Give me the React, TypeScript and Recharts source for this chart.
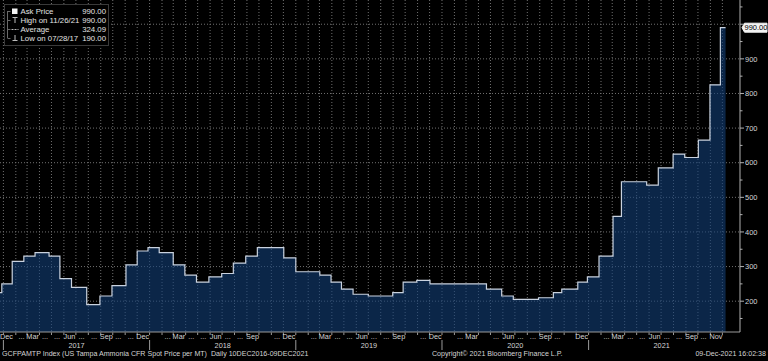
import React from 'react';
import { AreaChart, Area, XAxis, YAxis, CartesianGrid } from 'recharts';

// ---------- data ----------
const stepDates = [
  '2016-12-10', '2016-12-28', '2017-01-23', '2017-02-21', '2017-03-21', '2017-04-25', '2017-05-22', '2017-06-20', '2017-07-28', '2017-08-30',
  '2017-09-29', '2017-11-03', '2017-12-01', '2017-12-28', '2018-01-25', '2018-03-01', '2018-03-30', '2018-04-28', '2018-05-29', '2018-06-30',
  '2018-07-29', '2018-08-29', '2018-09-27', '2018-12-02', '2019-01-01', '2019-03-02', '2019-03-30', '2019-04-25', '2019-05-24', '2019-07-01',
  '2019-08-31', '2019-09-26', '2019-10-30', '2019-12-02', '2020-04-21', '2020-05-29', '2020-06-27', '2020-08-29', '2020-10-05', '2020-10-26',
  '2020-12-05', '2020-12-29', '2021-01-27', '2021-03-03', '2021-03-24', '2021-05-26', '2021-06-24', '2021-07-31', '2021-08-29', '2021-10-02',
  '2021-10-31', '2021-11-26', '2021-12-09',
];
const askPrice = [
  225, 250, 315, 330, 340, 330, 265, 240, 190, 215,
  245, 305, 345, 355, 340, 305, 275, 255, 270, 280,
  310, 330, 355, 325, 285, 275, 255, 235, 220, 215,
  225, 255, 260, 250, 235, 215, 205, 210, 225, 235,
  255, 270, 330, 445, 545, 535, 585, 625, 615, 665,
  825, 990, 990,
];

// month labels from Dec 2016 to Nov 2021 ('' = not shown)
const monthTickLabels = [
  'Dec',
  '', '...', 'Mar', '...', '...', 'Jun', '...', '...', 'Sep', '...', '...', 'Dec',
  '', '...', 'Mar', '...', '...', 'Jun', '...', '...', 'Sep', '', '...', 'Dec',
  '', '...', 'Mar', '...', '...', 'Jun', '...', '...', 'Sep', '', '...', 'Dec',
  '', '...', 'Mar', '', '...', 'Jun', '...', '...', 'Sep', '...', '', 'Dec',
  '', '...', 'Mar', '...', '...', 'Jun', '...', '...', 'Sep', '...', 'Nov',
];
const yearTickLabels = ['2017', '2018', '2019', '2020', '2021'];
const yTickLabels = [200, 300, 400, 500, 600, 700, 800, 900];
const lastPrice = 990;
const lastPriceLabel = '990.00';

const legendLabels = ['Ask Price', 'High on 11/26/21', 'Average', 'Low on 07/28/17'];
const legendValues = ['990.00', '990.00', '324.09', '190.00'];

const footerLeft = 'GCFPAMTP Index (US Tampa Ammonia CFR Spot Price per MT)  Daily 10DEC2016-09DEC2021';
const footerMid = 'Copyright\u00A9 2021 Bloomberg Finance L.P.';
const footerRight = '09-Dec-2021 16:02:38';

// ---------- layout ----------
const W = 768;
const H = 361;
const Y_AXIS_W = 28;
const X_AXIS_H = 29;
const AXIS_X = W - Y_AXIS_W;
const PLOT_B = H - X_AXIS_H;
const FONT = '"Liberation Sans", Arial, sans-serif';
const TXT = '#d4d4d4';

const DAY = 86400000;
const toT = (s: string) => Date.parse(s + 'T00:00:00Z');
const START = toT('2016-12-10');
const X_MIN = START + 13.5 * DAY;
const X_MAX = START + 1861 * DAY;
const Y_MIN = 111;
const Y_MAX = 1070;

const data = stepDates.map((d, i) => ({ t: toT(d), v: askPrice[i] }));

// tick bookkeeping
type TickInfo = { monthStart?: boolean; yearStart?: boolean; monthLabel?: string; anchorStart?: boolean; yearLabel?: string };
const tickInfo = new Map<number, TickInfo>();
const addInfo = (t: number, info: TickInfo) => {
  const prev = tickInfo.get(t) || {};
  tickInfo.set(t, { ...prev, ...info });
};
const monthStarts: number[] = [];
for (let y = 2017; y <= 2021; y++) {
  for (let m = 0; m < 12; m++) {
    const t = Date.UTC(y, m, 1);
    if (t < X_MAX) {
      monthStarts.push(t);
      addInfo(t, { monthStart: true, yearStart: m === 0 });
    }
  }
}
monthTickLabels.forEach((lab, i) => {
  if (!lab) return;
  const y = 2016 + Math.floor((11 + i) / 12);
  const m = (11 + i) % 12;
  let t = Date.UTC(y, m, 15);
  let anchorStart = false;
  if (t < X_MIN) {
    t = X_MIN;
    anchorStart = true;
  }
  addInfo(t, { monthLabel: lab, anchorStart });
});
yearTickLabels.forEach((lab) => {
  const y = Number(lab);
  const a = Math.max(Date.UTC(y, 0, 1), X_MIN);
  const b = Math.min(Date.UTC(y + 1, 0, 1), X_MAX);
  addInfo(Math.round((a + b) / 2), { yearLabel: lab });
});
const xTicks = Array.from(tickInfo.keys()).sort((a, b) => a - b);

const gridY = [200, 300, 400, 500, 600, 700, 800, 900, 1000];
const minorY = [150, 250, 350, 450, 550, 650, 750, 850, 950, 1050];
const yTicks = [...minorY, ...gridY, lastPrice].sort((a, b) => a - b);

const XTick = (props: any) => {
  const { x, payload } = props;
  const info = tickInfo.get(payload.value);
  if (!info) return null;
  return (
    <g>
      {info.monthStart && <line x1={x} x2={x} y1={PLOT_B + 0.5} y2={PLOT_B + 3} stroke="#9a9a9a" strokeWidth={1} />}
      {info.yearStart && <line x1={x} x2={x} y1={PLOT_B + 8} y2={PLOT_B + 18} stroke="#9a9a9a" strokeWidth={1} />}
      {info.monthLabel && (
        <text x={x} y={PLOT_B + 7.4} fontSize={7.3} fill={TXT} fontFamily={FONT} textAnchor={info.anchorStart ? 'start' : 'middle'}>
          {info.monthLabel}
        </text>
      )}
      {info.yearLabel && (
        <text x={x} y={PLOT_B + 16.4} fontSize={7.3} fill={TXT} fontFamily={FONT} textAnchor="middle">
          {info.yearLabel}
        </text>
      )}
    </g>
  );
};

const YTick = (props: any) => {
  const { y, payload } = props;
  const v = payload.value;
  if (v === lastPrice) {
    return (
      <g>
        <path
          d={`M${AXIS_X + 2} ${y} L${AXIS_X + 4.5} ${y - 4.5} L${W - 1} ${y - 4.5} L${W - 1} ${y + 4.5} L${AXIS_X + 4.5} ${y + 4.5} Z`}
          fill="#f2f2f2"
          stroke="#f2f2f2"
          strokeLinejoin="round"
        />
        <text x={AXIS_X + 4.5} y={y + 2.7} fontSize={7.5} fill="#000" fontFamily={FONT}>
          {lastPriceLabel}
        </text>
      </g>
    );
  }
  const major = v % 100 === 0;
  const labeled = yTickLabels.includes(v);
  return (
    <g>
      <line x1={AXIS_X} x2={AXIS_X + (major ? 4 : 2.5)} y1={y} y2={y} stroke="#b0b0b0" strokeWidth={1} />
      {labeled && (
        <text x={AXIS_X + 5} y={y + 2.7} fontSize={7.5} fill={TXT} fontFamily={FONT}>
          {v}
        </text>
      )}
    </g>
  );
};

const Legend = () => {
  const rows = [11, 20, 29, 38];
  return (
    <svg width={120} height={50} style={{ position: 'absolute', left: 0, top: 0 }}>
      <rect x={4.5} y={4.5} width={104} height={41} fill="#000" stroke="#3a3a3a" />
      <line x1={7.5} x2={7.5} y1={rows[0]} y2={rows[3]} stroke="#6a6a6a" />
      {rows.map((ry) => (
        <line key={ry} x1={7.5} x2={10.5} y1={ry + 0.5} y2={ry + 0.5} stroke="#6a6a6a" />
      ))}
      <rect x={12} y={8.5} width={5.5} height={5.5} fill="#f4f4f4" />
      <line x1={12.5} x2={17.5} y1={17.5} y2={17.5} stroke="#bbb" />
      <line x1={15} x2={15} y1={17.5} y2={23} stroke="#bbb" />
      <line x1={11.5} x2={18.5} y1={29.5} y2={29.5} stroke="#bbb" strokeDasharray="2 1" />
      <line x1={15} x2={15} y1={35} y2={40.5} stroke="#bbb" />
      <line x1={12.5} x2={17.5} y1={40.5} y2={40.5} stroke="#bbb" />
      {legendLabels.map((lab, i) => (
        <text key={lab} x={20.5} y={rows[i] + 2.8} fontSize={7.8} fill="#e2e2e2" fontFamily={FONT}>
          {lab}
        </text>
      ))}
      {legendValues.map((val, i) => (
        <text key={i} x={106} y={rows[i] + 2.8} fontSize={7.8} fill="#e2e2e2" fontFamily={FONT} textAnchor="end">
          {val}
        </text>
      ))}
    </svg>
  );
};

const footStyle: React.CSSProperties = {
  position: 'absolute',
  top: 350,
  fontSize: 7.1,
  lineHeight: '9px',
  color: TXT,
  fontFamily: FONT,
  whiteSpace: 'pre',
};

export default function App() {
  return (
    <div style={{ position: 'fixed', left: 0, top: 0, width: W, height: H, background: '#000', overflow: 'hidden' }}>
      <AreaChart width={W} height={H} data={data} margin={{ top: 0, right: 0, bottom: 0, left: 0 }}>
        <CartesianGrid
          horizontal
          vertical
          horizontalValues={gridY}
          verticalValues={monthStarts}
          stroke="#707070"
          strokeDasharray="1 2"
        />
        <XAxis
          dataKey="t"
          type="number"
          domain={[X_MIN, X_MAX]}
          allowDataOverflow
          ticks={xTicks}
          interval={0}
          height={X_AXIS_H}
          tickLine={false}
          axisLine={{ stroke: '#9a9a9a' }}
          tick={<XTick />}
        />
        <YAxis
          orientation="right"
          type="number"
          domain={[Y_MIN, Y_MAX]}
          allowDataOverflow
          ticks={yTicks}
          interval={0}
          width={Y_AXIS_W}
          tickLine={false}
          axisLine={{ stroke: '#b0b0b0' }}
          tick={<YTick />}
        />
        <Area
          type="stepAfter"
          dataKey="v"
          stroke="#c9d2df"
          strokeWidth={1.2}
          fill="#123f78"
          fillOpacity={0.6}
          isAnimationActive={false}
          dot={false}
          activeDot={false}
        />
      </AreaChart>
      <Legend />
      <div style={{ ...footStyle, left: 2 }}>{footerLeft}</div>
      <div style={{ ...footStyle, left: 432 }}>{footerMid}</div>
      <div style={{ ...footStyle, right: 2 }}>{footerRight}</div>
    </div>
  );
}
